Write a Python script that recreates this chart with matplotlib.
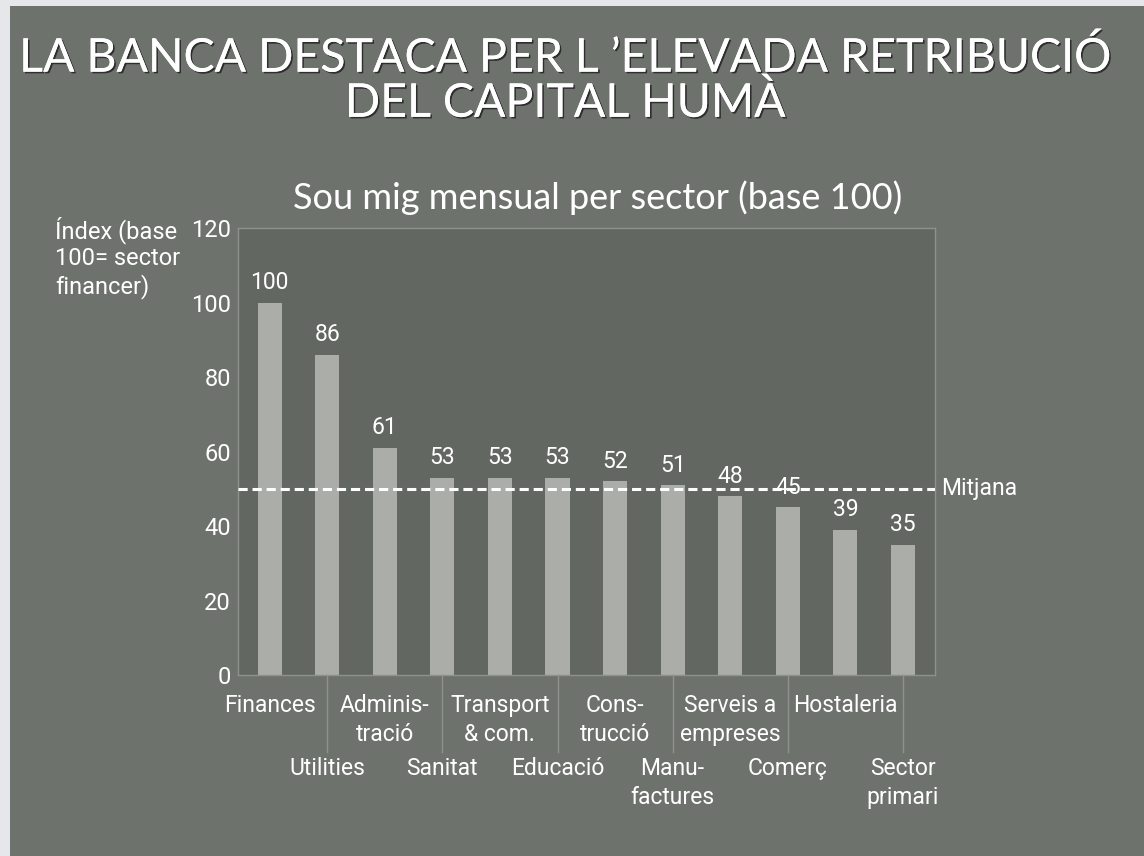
import matplotlib
matplotlib.use("Agg")
import matplotlib.pyplot as plt
import matplotlib.patheffects as pe
from matplotlib.patches import Rectangle
import matplotlib.transforms as mtransforms

# ---- data ----
categories = ["Finances", "Utilities", "Adminis-\ntració", "Sanitat", "Transport\n& com.",
              "Educaci\u00f3", "Cons-\ntrucció", "Manu-\nfactures", "Serveis a\nempreses",
              "Comerç", "Hostaleria", "Sector\nprimari"]
values = [100, 86, 61, 53, 53, 53, 52, 51, 48, 45, 39, 35]
mean_value = 50
yticks = [0, 20, 40, 60, 80, 100, 120]

title = "LA BANCA DESTACA PER L \u2019ELEVADA RETRIBUCIÓ\nDEL CAPITAL HUMÀ"
subtitle = "Sou mig mensual per sector (base 100)"
ylabel = "Índex (base\n100= sector\nfinancer)"
mean_label = "Mitjana"

# ---- style ----
outer_bg = "#6e726d"
plot_bg = "#636762"
bar_color = "#abada8"
frame_color = "#8e928c"
edge_bg = "#e6e7ea"
txt = "white"
label_font = ["Roboto", "DejaVu Sans"]
title_font = ["Lato", "DejaVu Sans"]

fig = plt.figure(figsize=(11.44, 8.56), dpi=100)
fig.patch.set_facecolor(outer_bg)
fig.patches.append(Rectangle((0, 0), 10 / 1144, 1, transform=fig.transFigure,
                             facecolor=edge_bg, edgecolor="none", zorder=0))
fig.patches.append(Rectangle((0, 1 - 6 / 856), 1, 6 / 856, transform=fig.transFigure,
                             facecolor=edge_bg, edgecolor="none", zorder=0))

fig.text(0.494, 0.906, title, ha="center", va="center", color=txt, fontsize=33.5,
         family=title_font, linespacing=1.06,
         path_effects=[pe.withSimplePatchShadow(offset=(1.2, -1.2), shadow_rgbFace="#222222", alpha=0.85),
                       pe.Normal()])

ax = fig.add_axes([0.208, 0.2114, 0.609, 0.5222])
ax.set_facecolor(plot_bg)
x = list(range(len(categories)))
ax.bar(x, values, width=0.42, color=bar_color, edgecolor="none", zorder=2)
ax.set_xlim(-0.55, len(categories) - 0.45)
ax.set_ylim(0, 120)
ax.set_yticks(yticks)
ax.set_yticklabels([str(t) for t in yticks], fontsize=17, color=txt, family=label_font)
ax.tick_params(axis="y", length=0, pad=5)
ax.set_xticks([])
for s in ax.spines.values():
    s.set_color(frame_color)
    s.set_linewidth(1.0)

# subtitle
fig.text(598 / 1144, 1 - 198 / 856, subtitle, ha="center", va="center",
         color=txt, fontsize=26, family=title_font)
# y label
fig.text(55 / 1144, 1 - 216 / 856, ylabel, ha="left", va="top", color=txt,
         fontsize=17, family=label_font, linespacing=1.2)

# value labels
for i, v in enumerate(values):
    ax.annotate(str(v), (i, v), xytext=(0, 6), textcoords="offset points",
                ha="center", va="bottom", color=txt, fontsize=16.5, family=label_font, zorder=4)

# mean line
ax.axhline(mean_value, color="white", lw=2.2, ls=(0, (3, 1.6)), zorder=3)
trans = mtransforms.blended_transform_factory(ax.transAxes, ax.transData)
ax.text(1.01, mean_value, mean_label, transform=trans, ha="left", va="center",
        color=txt, fontsize=16.5, family=label_font)

# category labels in two rows with separators
tx = mtransforms.blended_transform_factory(ax.transData, ax.transAxes)
for i, c in enumerate(categories):
    if i % 2 == 0:
        ax.text(i, -0.042, c, transform=tx, ha="center", va="top", color=txt,
                fontsize=16.5, family=label_font, linespacing=1.35)
    else:
        ax.text(i, -0.183, c, transform=tx, ha="center", va="top", color=txt,
                fontsize=16.5, family=label_font, linespacing=1.35)
        ax.plot([i, i], [0, -0.172], transform=tx, color=frame_color, lw=1.0, clip_on=False)

fig.savefig("out.png", dpi=100, facecolor=fig.get_facecolor())
